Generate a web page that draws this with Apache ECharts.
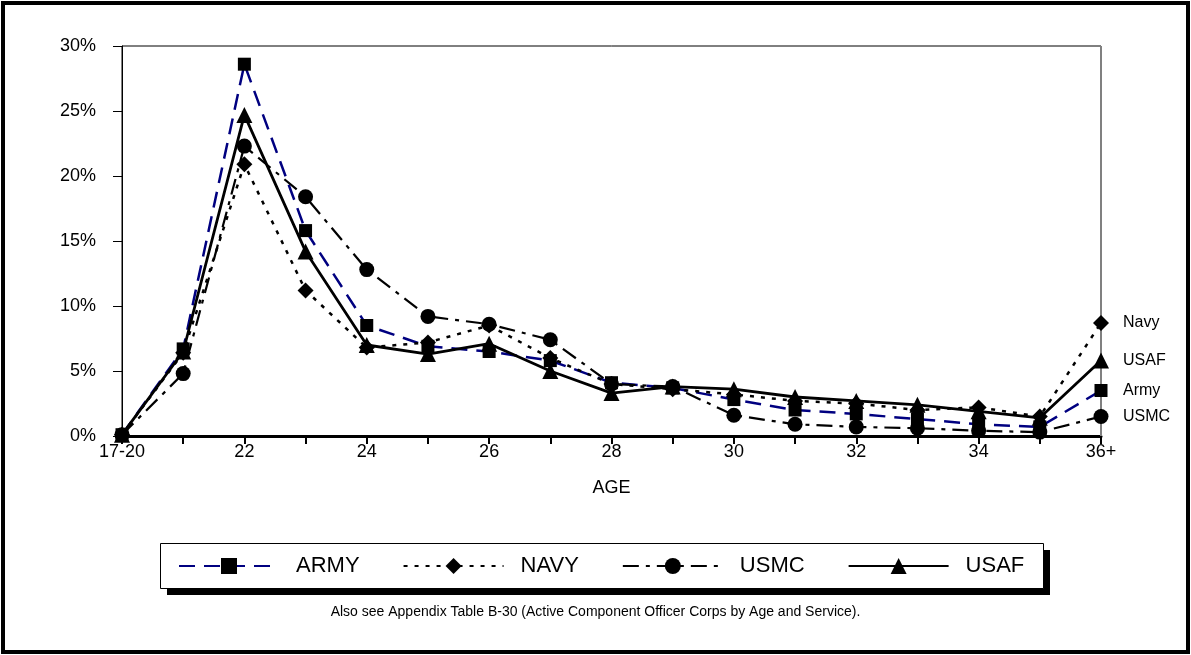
<!DOCTYPE html>
<html>
<head>
<meta charset="utf-8">
<script src="https://cdn.jsdelivr.net/npm/echarts@6/dist/echarts.min.js"></script>
<style>
html,body{margin:0;padding:0;background:#fff;}
#chart{width:1191px;height:655px;}
</style>
</head>
<body>
<div id="chart"></div>
<script>
var categories = ['17-20','21','22','23','24','25','26','27','28','29','30','31','32','33','34','35','36+'];
var army = [0.1, 6.7, 28.6, 15.8, 8.5, 6.9, 6.5, 5.8, 4.1, 3.7, 2.8, 2.0, 1.7, 1.3, 0.9, 0.7, 3.5];
var navy = [0.1, 6.4, 20.9, 11.2, 6.8, 7.2, 8.5, 6.0, 4.0, 3.6, 3.2, 2.7, 2.5, 2.0, 2.2, 1.5, 8.7];
var usmc = [0.1, 4.8, 22.3, 18.4, 12.8, 9.2, 8.6, 7.4, 4.0, 3.8, 1.6, 0.9, 0.7, 0.6, 0.4, 0.3, 1.5];
var usaf = [0.1, 6.5, 24.7, 14.2, 7.0, 6.3, 7.1, 5.0, 3.3, 3.8, 3.6, 3.0, 2.7, 2.4, 1.9, 1.4, 5.8];
var seriesNames = ['ARMY','NAVY','USMC','USAF'];
var endNames = ['Army','Navy','USMC','USAF'];
var footnote = 'Also see Appendix Table B-30 (Active Component Officer Corps by Age and Service).';
var xName = 'AGE';

var FONT = '"Liberation Sans", Arial, sans-serif';
var chart = echarts.init(document.getElementById('chart'));

function mk(name, endName, data, color, dash, symbol, size, width) {
  return {
    name: name, type: 'line', data: data,
    symbol: symbol, symbolSize: size, showAllSymbol: true,
    itemStyle: {color: '#000'},
    lineStyle: {color: color, width: width, type: dash},
    animation: false,
    endLabel: {show: true, formatter: endName, distance: 22, color: '#000',
      fontFamily: FONT, fontSize: 16},
    emphasis: {disabled: true}
  };
}

chart.setOption({
  backgroundColor: '#fff',
  animation: false,
  grid: {left: 122, right: 90, top: 46, bottom: 219, show: true,
    borderColor: '#000', borderWidth: 1},
  legend: {
    left: 162, top: 543, z: 10,
    padding: [12, 16, 12, 16],
    itemWidth: 100, itemHeight: 20, itemGap: 43,
    textStyle: {fontFamily: FONT, fontSize: 22, color: '#000', padding: [0,0,0,12]},
    data: seriesNames
  },
  xAxis: {
    type: 'category', data: categories, boundaryGap: false,
    name: xName, nameLocation: 'middle', nameGap: 43,
    nameTextStyle: {fontFamily: FONT, fontSize: 18, color: '#000'},
    axisLine: {lineStyle: {color: '#000', width: 3}},
    axisTick: {show: true, interval: 0, length: 8, lineStyle: {color: '#000', width: 2}},
    axisLabel: {interval: 1, fontFamily: FONT, fontSize: 18, color: '#000', margin: 7},
    splitLine: {show: false}
  },
  yAxis: {
    type: 'value', min: 0, max: 30, interval: 5,
    axisLine: {show: true, lineStyle: {color: '#000', width: 1}},
    axisTick: {show: true, length: 9, lineStyle: {color: '#000'}},
    axisLabel: {formatter: '{value}%', fontFamily: FONT, fontSize: 18, color: '#000', margin: 26},
    splitLine: {show: false}
  },
  graphic: [
    {type: 'rect', shape: {x: 3, y: 3, width: 1185, height: 649},
      style: {fill: 'none', stroke: '#000', lineWidth: 4}, z: 100},
    {type: 'line', shape: {x1: 1101, y1: 46, x2: 1101, y2: 436},
      style: {stroke: '#808080', lineWidth: 2}, z: 1},
    {type: 'rect', shape: {x: 167, y: 550, width: 883, height: 45},
      style: {fill: '#000'}, z: 1},
    {type: 'rect', shape: {x: 160.5, y: 543.5, width: 883, height: 45},
      style: {fill: '#fff', stroke: '#000', lineWidth: 1}, z: 2},
    {type: 'text', left: 'center', top: 605,
      style: {text: footnote, fontFamily: FONT, fontSize: 14, fill: '#000'}}
  ],
  series: [
    mk('ARMY', endNames[0], army, '#000080', [16, 9], 'rect', 13, 2.5),
    mk('NAVY', endNames[1], navy, '#000', [4, 7], 'diamond', 16, 2.5),
    mk('USMC', endNames[2], usmc, '#000', [16, 7, 4, 7], 'circle', 15, 2.2),
    mk('USAF', endNames[3], usaf, '#000', 'solid', 'triangle', 16, 2.8)
  ]
});
</script>
</body>
</html>
